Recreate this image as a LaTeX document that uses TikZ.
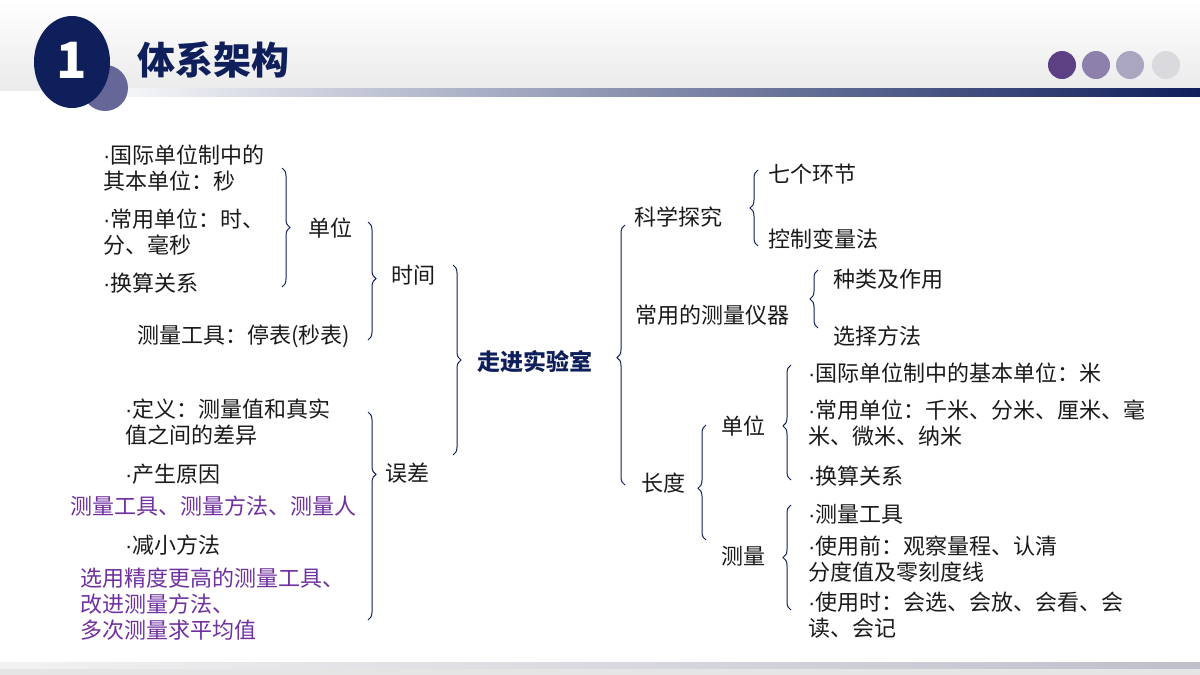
\documentclass[tikz,border=0pt]{standalone}
\usepackage{fontspec}
\setmainfont{Noto Sans CJK SC}
\newfontfamily\latf{Liberation Sans}
\newcommand\bul{{\latf ·}}
\usetikzlibrary{decorations.pathreplacing}
\definecolor{navy}{HTML}{0F1F5C}
\definecolor{txt}{HTML}{1A1A1A}
\definecolor{pur}{HTML}{7030A0}
\begin{document}
\begin{tikzpicture}[x=1pt,y=-1pt,
  t/.style={text=txt,font=\fontsize{22}{26}\selectfont,inner sep=0pt,align=left},
  tl/.style={t,anchor=west},
  pp/.style={tl,text=pur},
  br/.style={draw=navy,line width=1pt,decorate,decoration={brace,amplitude=8pt,aspect=#1}},
  br/.default=0.5]
\useasboundingbox (0,0) rectangle (1200,675);
\fill[white] (0,0) rectangle (1200,675);
% header
\shade[top color=white,bottom color=black!8] (0,0) rectangle (1200,90);
\shade[left color=white,right color=navy] (80,88) rectangle (1200,97);
\fill[white] (0,97) rectangle (1200,100);
\fill[black!10] (0,662) rectangle (1200,675);
\shade[left color=black!5,right color=blue!20!black!25] (0,662) rectangle (1200,668);
\fill[gray!80!blue] (105,88) circle[radius=23];
\fill[navy] (72,62) ellipse[x radius=38,y radius=46];
\node[text=white,font=\bfseries\fontsize{50}{50}\selectfont] (num) at (72,60) {1};
\node[anchor=west,text=navy,font=\bfseries\fontsize{38}{38}\selectfont,inner sep=0pt] (title) at (137,60) {体系架构};
\fill[violet!60!blue!50!black!75] (1062,65) circle[radius=14];
\fill[violet!45!blue!45!black!50] (1096,65) circle[radius=14];
\fill[violet!35!blue!35!black!35] (1130,65) circle[radius=14];
\fill[violet!15!blue!15!black!15] (1166,65) circle[radius=14];
% left side
\node[tl] (a1) at (103,168) {\bul 国际单位制中的\\其本单位：秒};
\node[tl] (a2) at (103,232) {\bul 常用单位：时、\\分、毫秒};
\node[tl] (a3) at (103,283) {\bul 换算关系};
\node[tl] (a4) at (137,336) {测量工具：停表(秒表)};
\node[t] (dw) at (330,228) {单位};
\node[t] (sj) at (413,275) {时间};
\node[t,font=\bfseries\fontsize{23}{26}\selectfont,text=navy] (root) at (535,362) {走进实验室};
\node[tl] (b1) at (125,422) {\bul 定义：测量值和真实\\值之间的差异};
\node[tl] (b2) at (125,474) {\bul 产生原因};
\node[pp] (b3) at (70,506) {测量工具、测量方法、测量人};
\node[tl] (b4) at (125,545) {\bul 减小方法};
\node[pp] (b5) at (80,604) {选用精度更高的测量工具、\\改进测量方法、\\多次测量求平均值};
\node[t] (wc) at (407,473) {误差};
\draw[br] (282,168) -- (282,287);
\draw[br=0.48] (368,222) -- (368,340);
\draw[br=0.5] (453,265) -- (453,455);
\draw[br=0.3] (368,412) -- (368,620);
% right side
\draw[br=0.49] (625,485) -- (625,225);
\node[t] (kx) at (678,217) {科学探究};
\draw[br=0.5] (758,246) -- (758,170);
\node[tl] (k1) at (768,174) {七个环节};
\node[tl] (k2) at (768,239) {控制变量法};
\node[t] (cy) at (712,315) {常用的测量仪器};
\draw[br=0.5] (818,328) -- (818,270);
\node[tl] (c1) at (833,279) {种类及作用};
\node[tl] (c2) at (833,336) {选择方法};
\node[t] (cd) at (663,483) {长度};
\draw[br=0.45] (706,540) -- (706,425);
\node[t] (ldw) at (743,426) {单位};
\draw[br=0.47] (791,480) -- (791,365);
\node[tl] (d1) at (808,373) {\bul 国际单位制中的基本单位：米};
\node[tl] (d2) at (808,423) {\bul 常用单位：千米、分米、厘米、毫\\米、微米、纳米};
\node[tl] (d3) at (808,476) {\bul 换算关系};
\node[t] (lcl) at (743,556) {测量};
\draw[br=0.5] (791,610) -- (791,505);
\node[tl] (e1) at (808,514) {\bul 测量工具};
\node[tl] (e2) at (808,559) {\bul 使用前：观察量程、认清\\分度值及零刻度线};
\node[tl] (e3) at (808,615) {\bul 使用时：会选、会放、会看、会\\读、会记};
\end{tikzpicture}
\end{document}
